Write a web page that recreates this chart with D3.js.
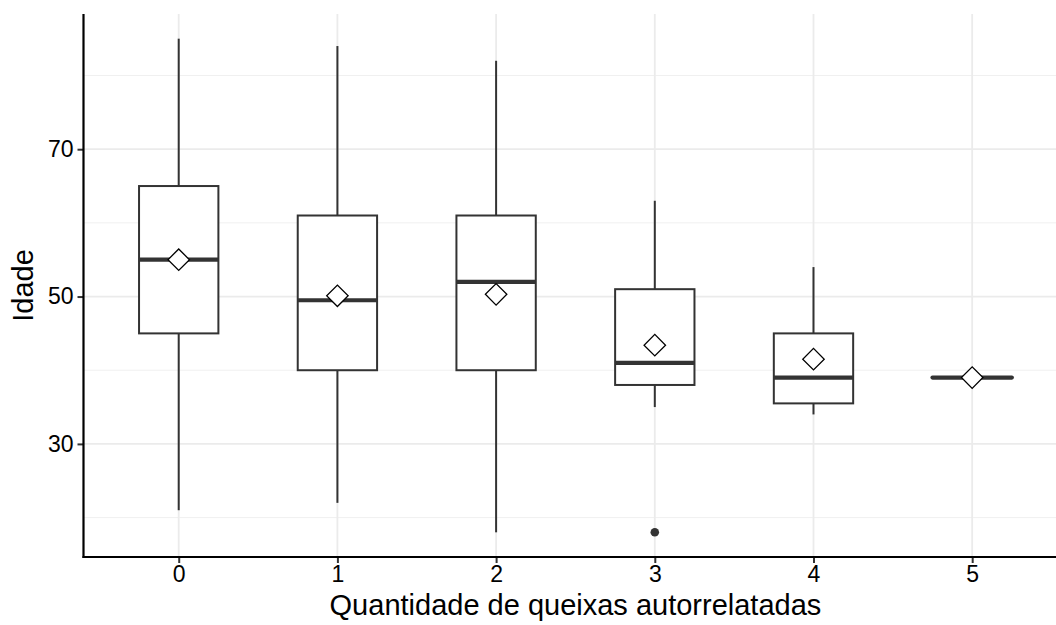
<!DOCTYPE html>
<html>
<head>
<meta charset="utf-8">
<script src="https://cdn.jsdelivr.net/npm/d3@7"></script>
<style>
  html, body { margin: 0; padding: 0; background: #ffffff; }
  svg { display: block; }
  text { font-family: "Liberation Sans", Arial, sans-serif; }
</style>
</head>
<body>
<svg id="chart" width="1056" height="625"></svg>
<script>
// Number of self-reported complaints (categories)
const categories = ["0", "1", "2", "3", "4", "5"];
// Box-plot summaries of age per category
const whiskerLow  = [21, 22, 18, 35, 34, 39];
const q1          = [45, 40, 40, 38, 35.5, 39];
const medians     = [55, 49.5, 52, 41, 39, 39];
const q3          = [65, 61, 61, 51, 45, 39];
const whiskerHigh = [85, 84, 82, 63, 54, 39];
const means       = [55, 50.1, 50.3, 43.4, 41.5, 39];
// Outlying observations: [category, age]
const outliers = [["3", 18]];

const majorTicks = [30, 50, 70];
const minorTicks = [20, 40, 60, 80];

const xTitle = "Quantidade de queixas autorrelatadas";
const yTitle = "Idade";

const svg = d3.select("#chart");

const panel = { left: 83.5, right: 1067.4, top: 14, bottom: 557 };

const x = d3.scalePoint()
  .domain(categories)
  .range([panel.left, panel.right])
  .padding(0.6);

const y = d3.scaleLinear()
  .domain([14.65, 88.35])
  .range([panel.bottom, panel.top]);

const boxW = x.step() * 0.5;

const grid = svg.append("g");
// minor horizontal grid
grid.selectAll("line.minor")
  .data(minorTicks)
  .join("line")
  .attr("x1", panel.left).attr("x2", panel.right)
  .attr("y1", d => y(d)).attr("y2", d => y(d))
  .attr("stroke", "#f0f0f0").attr("stroke-width", 1);
// major horizontal grid
grid.selectAll("line.majorY")
  .data(majorTicks)
  .join("line")
  .attr("x1", panel.left).attr("x2", panel.right)
  .attr("y1", d => y(d)).attr("y2", d => y(d))
  .attr("stroke", "#ebebeb").attr("stroke-width", 1.8);
// vertical grid at each category
grid.selectAll("line.majorX")
  .data(categories, d => "x" + d)
  .join("line")
  .attr("x1", d => x(d)).attr("x2", d => x(d))
  .attr("y1", panel.top).attr("y2", panel.bottom)
  .attr("stroke", "#ebebeb").attr("stroke-width", 1.8);

const data = categories.map((c, i) => ({
  cat: c, lo: whiskerLow[i], q1: q1[i], med: medians[i],
  q3: q3[i], hi: whiskerHigh[i], mean: means[i]
}));

const boxes = svg.append("g").selectAll("g")
  .data(data)
  .join("g");

const col = "#333333";

// whiskers
boxes.append("line")
  .attr("x1", d => x(d.cat)).attr("x2", d => x(d.cat))
  .attr("y1", d => y(d.q3)).attr("y2", d => y(d.hi))
  .attr("stroke", col).attr("stroke-width", 2);
boxes.append("line")
  .attr("x1", d => x(d.cat)).attr("x2", d => x(d.cat))
  .attr("y1", d => y(d.q1)).attr("y2", d => y(d.lo))
  .attr("stroke", col).attr("stroke-width", 2);

// boxes
boxes.append("rect")
  .attr("x", d => x(d.cat) - boxW / 2)
  .attr("width", boxW)
  .attr("y", d => y(d.q3))
  .attr("height", d => y(d.q1) - y(d.q3))
  .attr("fill", "#ffffff")
  .attr("stroke", col).attr("stroke-width", 2);

// medians
boxes.append("line")
  .attr("x1", d => x(d.cat) - boxW / 2).attr("x2", d => x(d.cat) + boxW / 2)
  .attr("y1", d => y(d.med)).attr("y2", d => y(d.med))
  .attr("stroke", col).attr("stroke-width", 4.2)
  .attr("stroke-linecap", d => d.q1 === d.q3 ? "round" : "butt");

// outliers
svg.append("g").selectAll("circle")
  .data(outliers)
  .join("circle")
  .attr("cx", d => x(d[0])).attr("cy", d => y(d[1]))
  .attr("r", 4.3).attr("fill", col);

// means as diamonds (rotated squares)
svg.append("g").selectAll("path")
  .data(data)
  .join("path")
  .attr("transform", d => `translate(${x(d.cat)},${y(d.mean)}) rotate(45)`)
  .attr("d", d3.symbol().type(d3.symbolSquare).size(230)())
  .attr("fill", "#ffffff")
  .attr("stroke", "#000000").attr("stroke-width", 1.3);

// axes
const yAxis = svg.append("g")
  .attr("transform", `translate(${panel.left},0)`)
  .call(d3.axisLeft(y).tickValues(majorTicks).tickSize(6).tickPadding(4));
const xAxis = svg.append("g")
  .attr("transform", `translate(0,${panel.bottom})`)
  .call(d3.axisBottom(x).tickSize(6).tickPadding(3));

[yAxis, xAxis].forEach(a => {
  a.select(".domain").remove();
  a.selectAll(".tick line").attr("stroke", col).attr("stroke-width", 2);
  a.selectAll(".tick text")
    .attr("font-size", 23)
    .attr("fill", "#000000");
});

// axis lines
svg.append("line")
  .attr("x1", panel.left).attr("x2", panel.left)
  .attr("y1", panel.top).attr("y2", panel.bottom + 1)
  .attr("stroke", "#000").attr("stroke-width", 2.2);
svg.append("line")
  .attr("x1", panel.left - 1).attr("x2", panel.right)
  .attr("y1", panel.bottom).attr("y2", panel.bottom)
  .attr("stroke", "#000").attr("stroke-width", 2.2);

// titles
svg.append("text")
  .attr("x", (panel.left + panel.right) / 2)
  .attr("y", 615)
  .attr("text-anchor", "middle")
  .attr("font-size", 29)
  .attr("fill", "#000")
  .text(xTitle);

svg.append("text")
  .attr("transform", `translate(33,${(panel.top + panel.bottom) / 2}) rotate(-90)`)
  .attr("text-anchor", "middle")
  .attr("font-size", 29)
  .attr("fill", "#000")
  .text(yTitle);
</script>
</body>
</html>
